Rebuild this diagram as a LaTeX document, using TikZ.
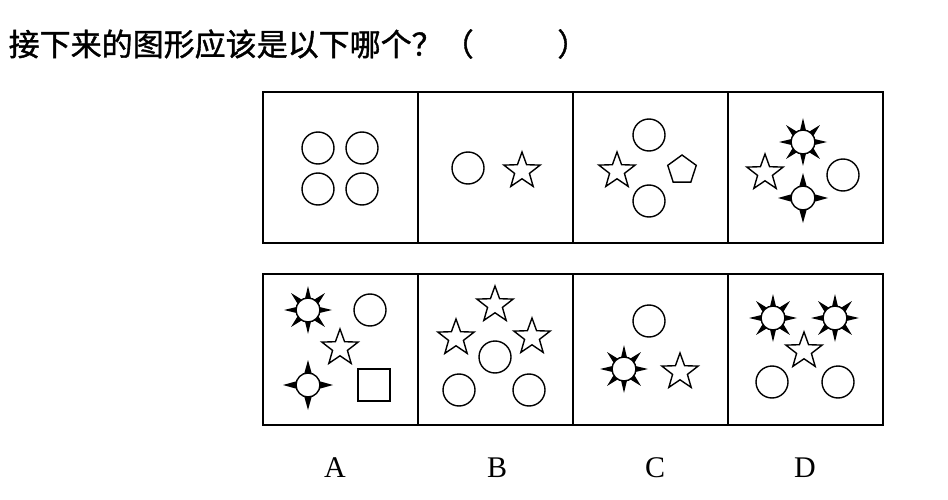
\documentclass[tikz,border=0pt]{standalone}
\usepackage{fontspec}
\newfontfamily\cjk[FakeBold=1.2]{Noto Sans CJK SC}
\setmainfont{Liberation Serif}
\begin{document}
\begin{tikzpicture}[x=1pt,y=-1pt,line width=1.4pt,
  circ/.pic={\draw (0,0) circle (16);},
  starp/.pic={\draw[line join=miter] (-90:19) \foreach \a in {0,1,2,3,4}{ -- (-90+72*\a:19) -- (-54+72*\a:7.8)} -- cycle;},
  pent/.pic={\draw (-90:15) -- (-18:15) -- (54:15) -- (126:15) -- (198:15) -- cycle;},
  sun/.pic={\foreach \a in {0,45,...,315}{\fill (\a-17:11) -- (\a:24) -- (\a+17:11) -- cycle;}
            \draw[fill=white] (0,0) circle (12);},
  crossp/.pic={\foreach \a in {0,90,180,270}{\fill (\a-22:11) -- (\a:25) -- (\a+22:11) -- cycle;}
            \draw[fill=white] (0,0) circle (12);},
  sq/.pic={\draw (-16,-16) rectangle (16,16);},
  lab/.style={font=\fontsize{30}{32}\selectfont}]
\useasboundingbox (0,0) rectangle (948,500);
\node[anchor=west,inner sep=0pt,font=\cjk\fontsize{31}{34}\selectfont] (t) at (8,44) {接下来的图形应该是以下哪个？（\hspace{2.7em}）};
\foreach \x in {263,418,573,728}{
  \draw (\x,92) rectangle ++(155,151);
  \draw (\x,274) rectangle ++(155,151);}
% top row
\pic at (318,148) {circ}; \pic at (362,148) {circ};
\pic at (318,189) {circ}; \pic at (362,189) {circ};
\pic at (468,168) {circ}; \pic at (522,171) {starp};
\pic at (649,135) {circ}; \pic at (617,171) {starp}; \pic at (682,170) {pent}; \pic at (649,201) {circ};
\pic at (803,142) {sun}; \pic at (765,173) {starp}; \pic at (843,175) {circ}; \pic at (803,198) {crossp};
% bottom row
\pic at (308,310) {sun}; \pic at (370,310) {circ}; \pic at (340,348) {starp};
\pic at (308,385) {crossp}; \pic at (374,385) {sq};
\pic at (495,305) {starp}; \pic at (456,338) {starp}; \pic at (532,337) {starp};
\pic at (495,357) {circ}; \pic at (459,390) {circ}; \pic at (529,390) {circ};
\pic at (649,321) {circ}; \pic at (624,369) {sun}; \pic at (680,372) {starp};
\pic at (773,318) {sun}; \pic at (835,318) {sun}; \pic at (804,351) {starp};
\pic at (772,382) {circ}; \pic at (838,382) {circ};
\node[lab] (a) at (335,468) {A};
\node[lab] (b) at (497,468) {B};
\node[lab] (c) at (655,468) {C};
\node[lab] (d) at (805,468) {D};
\end{tikzpicture}
\end{document}
